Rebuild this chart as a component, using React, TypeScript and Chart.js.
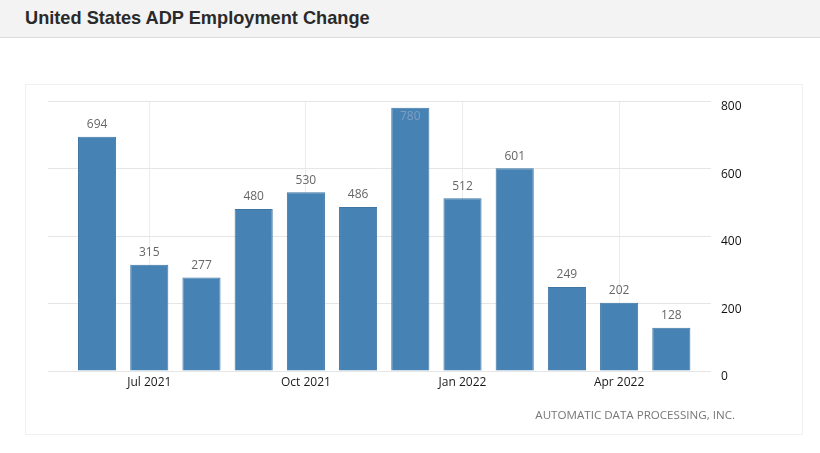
import { useEffect, useRef } from 'react'
import { Chart, registerables, type Plugin } from 'chart.js'

Chart.register(...registerables)

const MONTHS = [
  'Jun 2021', 'Jul 2021', 'Aug 2021', 'Sep 2021', 'Oct 2021', 'Nov 2021',
  'Dec 2021', 'Jan 2022', 'Feb 2022', 'Mar 2022', 'Apr 2022', 'May 2022',
]
const CHANGE = [694, 315, 277, 480, 530, 486, 780, 512, 601, 249, 202, 128]
const X_TICKS = [1, 4, 7, 10]
const Y_TICKS = [0, 200, 400, 600, 800]

const FONT = '"Open Sans", "DejaVu Sans", sans-serif'

// value labels above bars (inside when there's no room)
const valueLabels: Plugin<'bar'> = {
  id: 'valueLabels',
  afterDatasetsDraw(chart) {
    const { ctx, chartArea } = chart
    const meta = chart.getDatasetMeta(0)
    ctx.save()
    ctx.font = `12px ${FONT}`
    ctx.textAlign = 'center'
    ctx.textBaseline = 'middle'
    meta.data.forEach((bar, i) => {
      let y = bar.y - 12
      ctx.fillStyle = '#666'
      if (y - 6 < chartArea.top) {
        y = bar.y + 9
        ctx.fillStyle = 'rgba(140,165,195,0.8)'
      }
      ctx.fillText(String(CHANGE[i]), bar.x, y)
    })
    ctx.restore()
  },
}

export default function App() {
  const canvasRef = useRef<HTMLCanvasElement>(null)

  useEffect(() => {
    document.body.style.margin = '0'
    if (!canvasRef.current) return
    const chart = new Chart(canvasRef.current, {
      type: 'bar',
      data: {
        datasets: [
          {
            data: CHANGE.map((v, i) => ({ x: i, y: v })),
            backgroundColor: '#4682b4',
            borderColor: '#3e75a3',
            borderWidth: 1,
            barPercentage: 0.73,
            categoryPercentage: 1,
          },
        ],
      },
      options: {
        animation: false,
        responsive: true,
        maintainAspectRatio: false,
        layout: { padding: { left: 22, top: 16, right: 51, bottom: 33 } },
        plugins: { legend: { display: false }, tooltip: { enabled: false } },
        scales: {
          x: {
            type: 'linear',
            offset: false,
            min: -0.94,
            max: 11.76,
            afterBuildTicks: (scale) => {
              scale.ticks = X_TICKS.map((v) => ({ value: v }))
            },
            afterFit: (scale) => {
              scale.height = 30
            },
            ticks: {
              callback: (v) => MONTHS[Number(v)] ?? '',
              color: '#1a1a1a',
              font: { family: FONT, size: 12 },
              padding: 4,
              maxRotation: 0,
              autoSkip: false,
            },
            grid: { color: '#ececec', drawTicks: false, offset: false },
            border: { display: false },
          },
          y: {
            position: 'right',
            min: 0,
            max: 800,
            afterBuildTicks: (scale) => {
              scale.ticks = Y_TICKS.map((v) => ({ value: v }))
            },
            afterFit: (scale) => {
              scale.width = 40
            },
            ticks: {
              color: '#111',
              font: { family: FONT, size: 12 },
              padding: 10,
              align: 'start',
              crossAlign: 'near',
            },
            grid: { color: '#e6e6e6', drawTicks: false },
            border: { display: false },
          },
        },
      },
      plugins: [valueLabels],
    })
    return () => chart.destroy()
  }, [])

  return (
    <div style={{ position: 'fixed', inset: 0, background: '#fff', width: 820, height: 453 }}>
      <div
        style={{
          height: 38,
          background: '#f3f3f3',
          borderBottom: '1px solid #dcdcdc',
          boxSizing: 'border-box',
          paddingLeft: 25,
          font: `bold 18.2px "Liberation Sans", Arial, sans-serif`,
          color: '#2a2a2a',
          lineHeight: '37px',
        }}
      >
        United States ADP Employment Change
      </div>
      <div
        style={{
          position: 'absolute',
          left: 25,
          top: 84,
          width: 778,
          height: 351,
          border: '1px solid #f0f0f0',
          boxSizing: 'border-box',
        }}
      >
        <canvas ref={canvasRef} />
        <div
          style={{
            position: 'absolute',
            right: 67,
            top: 322,
            font: `11.6px ${FONT}`,
            color: '#777',
            whiteSpace: 'nowrap',
          }}
        >
          AUTOMATIC DATA PROCESSING, INC.
        </div>
      </div>
    </div>
  )
}
